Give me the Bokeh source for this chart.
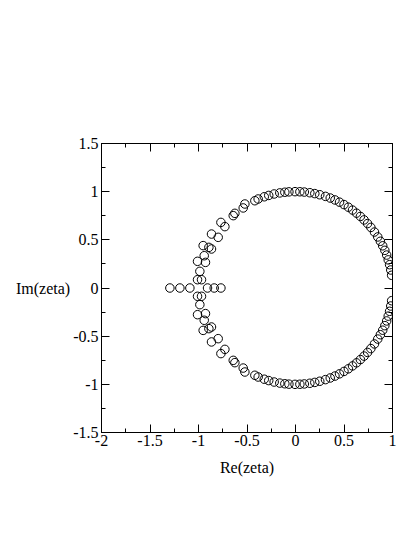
from bokeh.plotting import figure
from bokeh.models import LinearAxis, FixedTicker, Range1d, CustomLabelingPolicy
from bokeh.embed import file_html
from bokeh.resources import INLINE

# ---- data ----
re_upper = [0.991, 0.982, 0.970, 0.956, 0.940, 0.921, 0.899, 0.875, 0.848, 0.814,
            0.777, 0.743, 0.707, 0.669, 0.629, 0.588, 0.545, 0.500, 0.454, 0.407,
            0.358, 0.309, 0.250, 0.199, 0.148, 0.091, 0.045, -0.005, -0.068, -0.110,
            -0.162, -0.220, -0.276, -0.322,
            -0.385, -0.419, -0.522, -0.539, -0.625, -0.642, -0.728, -0.769, -0.797, -0.866,
            -0.866, -0.893, -0.952, -0.941, -0.928, -1.010, -0.986, -1.010, -0.969]
im_upper = [0.132, 0.187, 0.242, 0.292, 0.342, 0.391, 0.438, 0.485, 0.530, 0.581,
            0.629, 0.669, 0.707, 0.743, 0.777, 0.809, 0.839, 0.866, 0.891, 0.914,
            0.934, 0.951, 0.968, 0.980, 0.989, 0.996, 0.999, 1.000, 0.998, 0.994,
            0.987, 0.976, 0.961, 0.947,
            0.924, 0.906, 0.872, 0.831, 0.775, 0.751, 0.637, 0.681, 0.526, 0.560,
            0.405, 0.422, 0.440, 0.335, 0.266, 0.277, 0.173, 0.086, 0.086]
re_lower = [0.991, 0.982, 0.970, 0.956, 0.940, 0.921, 0.899, 0.875, 0.848, 0.814,
            0.777, 0.743, 0.707, 0.669, 0.629, 0.588, 0.545, 0.500, 0.454, 0.407,
            0.358, 0.309, 0.250, 0.199, 0.148, 0.091, 0.045, -0.005, -0.068, -0.110,
            -0.162, -0.220, -0.276, -0.322,
            -0.385, -0.419, -0.522, -0.539, -0.625, -0.642, -0.728, -0.769, -0.797, -0.866,
            -0.866, -0.893, -0.952, -0.941, -0.928, -1.010, -0.986, -1.010, -0.969]
im_lower = [-0.132, -0.187, -0.242, -0.292, -0.342, -0.391, -0.438, -0.485, -0.530, -0.581,
            -0.629, -0.669, -0.707, -0.743, -0.777, -0.809, -0.839, -0.866, -0.891, -0.914,
            -0.934, -0.951, -0.968, -0.980, -0.989, -0.996, -0.999, -1.000, -0.998, -0.994,
            -0.987, -0.976, -0.961, -0.947,
            -0.924, -0.906, -0.872, -0.831, -0.775, -0.751, -0.637, -0.681, -0.526, -0.560,
            -0.405, -0.422, -0.440, -0.335, -0.266, -0.277, -0.173, -0.086, -0.086]
re_axis = [-1.295, -1.192, -1.089, -0.907, -0.838, -0.769]
im_axis = [0.0, 0.0, 0.0, 0.0, 0.0, 0.0]

x_ticks = [-2, -1.5, -1, -0.5, 0, 0.5, 1]
x_minor = [-1.75, -1.25, -0.75, -0.25, 0.25, 0.75]
y_ticks = [-1.5, -1, -0.5, 0, 0.5, 1, 1.5]
y_minor = [-1.25, -0.75, -0.25, 0.25, 0.75, 1.25]
x_labels = {-2: "-2", -1.5: "-1.5", -1: "-1", -0.5: "-0.5", 0: "0", 0.5: "0.5", 1: "1"}
y_labels = {-1.5: "-1.5", -1: "-1", -0.5: "-0.5", 0: "0", 0.5: "0.5", 1: "1", 1.5: "1.5"}

FONT = "Liberation Serif"

p = figure(width=406, height=528, output_backend="svg", toolbar_location=None,
           x_range=Range1d(-2, 1), y_range=Range1d(-1.5, 1.5),
           x_axis_location=None, y_axis_location=None,
           min_border_left=101, min_border_right=14, min_border_top=143, min_border_bottom=96)
p.xgrid.visible = False
p.ygrid.visible = False
p.outline_line_color = "black"
p.outline_line_width = 1
p.background_fill_color = "white"
p.border_fill_color = "white"

hide_all = CustomLabelingPolicy(code="""
    for (const i of Array.from(indices)) indices.unset(i)
    return indices
""")


def style(ax, ticks, minor, labels, show):
    ax.ticker = FixedTicker(ticks=ticks, minor_ticks=minor)
    ax.major_tick_in = 8
    ax.major_tick_out = 0
    ax.minor_tick_in = 4
    ax.minor_tick_out = 0
    ax.major_tick_line_color = "black"
    ax.minor_tick_line_color = "black"
    ax.axis_line_color = "black"
    if show:
        ax.major_label_overrides = labels
        ax.major_label_text_font = FONT
        ax.major_label_text_font_size = "16px"
        ax.major_label_text_color = "black"
        ax.axis_label_text_font = FONT
        ax.axis_label_text_font_size = "16px"
        ax.axis_label_text_font_style = "normal"
        ax.axis_label_text_color = "black"
    else:
        ax.major_label_policy = hide_all
        ax.major_label_text_font_size = "1px"
        ax.major_label_standoff = 0


xb = LinearAxis(axis_label="Re(zeta)")
style(xb, x_ticks, x_minor, x_labels, True)
xb.major_label_standoff = 2
xb.axis_label_standoff = 10
p.add_layout(xb, "below")

yl = LinearAxis(axis_label="Im(zeta)")
style(yl, y_ticks, y_minor, y_labels, True)
yl.major_label_standoff = 3
yl.axis_label_standoff = 0
yl.major_label_orientation = "horizontal"
yl.axis_label_orientation = "horizontal"
p.add_layout(yl, "left")

xt = LinearAxis()
style(xt, x_ticks, x_minor, x_labels, False)
p.add_layout(xt, "above")

yr = LinearAxis()
style(yr, y_ticks, y_minor, y_labels, False)
p.add_layout(yr, "right")

for xs, ys in ((re_upper, im_upper), (re_lower, im_lower), (re_axis, im_axis)):
    p.scatter(xs, ys, marker="circle", size=8.5, fill_color=None,
              line_color="black", line_width=1)

open("out.html", "w").write(file_html(p, INLINE))
